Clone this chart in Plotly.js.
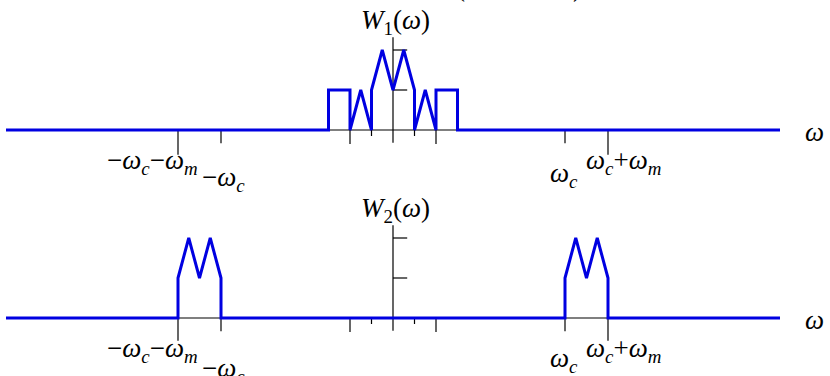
<!DOCTYPE html>
<html>
<head>
<meta charset="utf-8">
<script src="https://cdn.plot.ly/plotly-3.0.1.min.js"></script>
<style>html,body{margin:0;padding:0;background:#fff;}</style>
</head>
<body>
<div id="chart" style="width:830px;height:376px;"></div>
<script>
// Spectrum W1(ω): message spectrum (ω in units of ω_m)
const w1Freq = [-9, -1.5, -1.5, -1, -1, -0.75, -0.5, -0.5, -0.25, 0, 0.25, 0.5, 0.5, 0.75, 1, 1, 1.5, 1.5, 9];
const w1Amp  = [0, 0, 1, 1, 0, 1, 0, 1, 2, 1, 2, 1, 0, 1, 0, 1, 1, 0, 0];
// Spectrum W2(ω): shifted bands around ±ω_c (ω_c = 4 ω_m)
const w2Freq = [-9, -5, -5, -4.75, -4.5, -4.25, -4, -4, 4, 4, 4.25, 4.5, 4.75, 5, 5, 9];
const w2Amp  = [0, 0, 1, 2, 1, 2, 1, 0, 0, 1, 2, 1, 2, 1, 0, 0];
// Axis tick positions
const longTickFreq = [-1, 1];
const shortTickFreq = [-0.5, 0.5];
const bandTickFreq = [-5, -4, 4, 5];
const ampTicks = [1, 2];
// Tick labels
const bandLabels = ['−<i>ω</i><sub><i>c</i></sub>−<i>ω</i><sub><i>m</i></sub>', '−<i>ω</i><sub><i>c</i></sub>', '<i>ω</i><sub><i>c</i></sub>', '<i>ω</i><sub><i>c</i></sub>+<i>ω</i><sub><i>m</i></sub>'];
const titles = ['<i>W</i><sub>1</sub>(<i>ω</i>)', '<i>W</i><sub>2</sub>(<i>ω</i>)'];
const axisLabel = '<i>ω</i>';

const BLUE = 'rgb(0,0,225)';
const FONT = {family: 'Liberation Serif, DejaVu Serif, serif', size: 27, color: '#000'};

function tickDepth(f, panel) {
  if (Math.abs(f) === 5) return panel === 0 ? -0.62 : -0.57;
  if (Math.abs(f) === 4) return -0.33;
  if (Math.abs(f) === 1) return -0.35;
  return -0.15;
}

function axesTrace(yref, panel) {
  const xs = [], ys = [];
  xs.push(-9, 9, null); ys.push(0, 0, null);
  xs.push(0, 0, null); ys.push(-0.32, 2.32, null);
  ampTicks.forEach(a => { xs.push(0, 0.33, null); ys.push(a, a, null); });
  longTickFreq.concat(shortTickFreq, bandTickFreq).forEach(f => {
    xs.push(f, f, null); ys.push(0, tickDepth(f, panel), null);
  });
  return {x: xs, y: ys, xaxis: 'x', yaxis: yref, mode: 'lines', line: {color: '#000', width: 1.2}, hoverinfo: 'skip', showlegend: false};
}

const data = [
  axesTrace('y', 0),
  axesTrace('y2', 1),
  {x: w1Freq, y: w1Amp, xaxis: 'x', yaxis: 'y', mode: 'lines', line: {color: BLUE, width: 3}, showlegend: false},
  {x: w2Freq, y: w2Amp, xaxis: 'x', yaxis: 'y2', mode: 'lines', line: {color: BLUE, width: 3}, showlegend: false}
];

const labelPos = [
  [{x: -5.6, y: -0.8}, {x: -3.95, y: -1.22}, {x: 3.98, y: -1.13}, {x: 5.37, y: -0.8}],
  [{x: -5.6, y: -0.8}, {x: -3.95, y: -1.3}, {x: 3.98, y: -1.05}, {x: 5.37, y: -0.8}]
];

const annotations = [];
['y', 'y2'].forEach((yr, p) => {
  bandLabels.forEach((t, i) => {
    annotations.push({x: labelPos[p][i].x, y: labelPos[p][i].y, xref: 'x', yref: yr, text: t, showarrow: false, font: FONT, xanchor: 'center', yanchor: 'middle'});
  });
  annotations.push({x: 0.05, y: 2.7, xref: 'x', yref: yr, text: titles[p], showarrow: false, font: FONT, xanchor: 'center', yanchor: 'middle'});
  annotations.push({x: 9.81, y: -0.05, xref: 'x', yref: yr, text: axisLabel, showarrow: false, font: FONT, xanchor: 'center', yanchor: 'middle'});
});
// clipped text at the very top edge
annotations.push({x: 460/830, y: 1.0, xref: 'paper', yref: 'paper', text: '(', showarrow: false, font: FONT, xanchor: 'center', yanchor: 'bottom', yshift: -4});
annotations.push({x: 577/830, y: 1.0, xref: 'paper', yref: 'paper', text: ')', showarrow: false, font: FONT, xanchor: 'center', yanchor: 'bottom', yshift: -4});

const hidden = {showgrid: false, zeroline: false, showline: false, showticklabels: false, ticks: ''};
const layout = {
  width: 830, height: 376,
  margin: {l: 0, r: 0, t: 0, b: 0},
  paper_bgcolor: '#fff', plot_bgcolor: '#fff',
  xaxis: Object.assign({range: [-393/43, 437/43], anchor: 'y'}, hidden),
  yaxis: Object.assign({range: [-1.45, 3.25], domain: [0.5, 1], anchor: 'x'}, hidden),
  yaxis2: Object.assign({range: [-1.45, 3.25], domain: [0, 0.5], anchor: 'x'}, hidden),
  annotations: annotations,
  showlegend: false
};

Plotly.newPlot('chart', data, layout, {staticPlot: true});
</script>
</body>
</html>
